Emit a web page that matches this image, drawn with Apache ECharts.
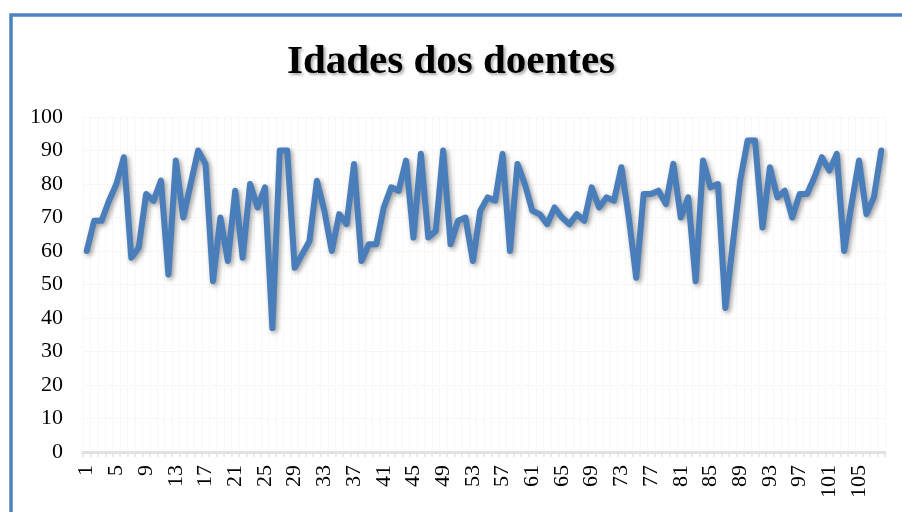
<!DOCTYPE html>
<html>
<head>
<meta charset="utf-8">
<script src="https://cdn.jsdelivr.net/npm/echarts@6/dist/echarts.min.js"></script>
<style>
html,body{margin:0;padding:0;background:#fff;}
#c{width:902px;height:512px;}
</style>
</head>
<body>
<div id="c"></div>
<script>
const titleText = 'Idades dos doentes';
const categories = [];
for (let i = 1; i <= 108; i++) categories.push(String(i));
const ages = [
  60, 69, 69, 75, 80, 88, 58, 61, 77, 75,
  81, 53, 87, 70, 80, 90, 86, 51, 70, 57,
  78, 58, 80, 73, 79, 37, 90, 90, 55, 59,
  63, 81, 72, 60, 71, 68, 86, 57, 62, 62,
  73, 79, 78, 87, 64, 89, 64, 66, 90, 62,
  69, 70, 57, 72, 76, 75, 89, 60, 86, 80,
  72, 71, 68, 73, 70, 68, 71, 69, 79, 73,
  76, 75, 85, 70, 52, 77, 77, 78, 74, 86,
  70, 76, 51, 87, 79, 80, 43, 62, 81, 93,
  93, 67, 85, 76, 78, 70, 77, 77, 82, 88,
  84, 89, 60, 74, 87, 71, 76, 90
];
const yMin = 0, yMax = 100, yStep = 10;

const chart = echarts.init(document.getElementById('c'), null, {renderer: 'canvas'});
chart.setOption({
  backgroundColor: '#ffffff',
  animation: false,
  title: {
    text: titleText,
    left: 'center',
    top: 37,
    textStyle: {
      fontFamily: 'Liberation Serif',
      fontWeight: 'bold',
      fontSize: 41,
      letterSpacing: 3.5,
      color: '#000',
      textShadowColor: 'rgba(0,0,0,0.35)',
      textShadowBlur: 3,
      textShadowOffsetX: 2,
      textShadowOffsetY: 2
    }
  },
  graphic: [{
    type: 'rect',
    shape: {x: 11, y: 15, width: 1000, height: 1000},
    style: {fill: 'none', stroke: '#4F81BD', lineWidth: 3.5},
    silent: true
  }],
  grid: {left: 83, right: 17, top: 117, bottom: 60, containLabel: false},
  xAxis: {
    type: 'category',
    data: categories,
    boundaryGap: true,
    axisLine: {show: true, lineStyle: {color: '#e2e2e2', width: 3}},
    axisTick: {show: true, interval: 0, length: 5, lineStyle: {color: '#e2e2e2', width: 1.5}},
    axisLabel: {
      interval: 3,
      rotate: 90,
      margin: 13,
      fontFamily: 'Liberation Serif',
      fontSize: 22,
      color: '#000'
    },
    splitLine: {show: true, interval: 0, lineStyle: {color: '#f1f1f1', type: 'dotted', width: 1}}
  },
  yAxis: {
    type: 'value',
    min: yMin,
    max: yMax,
    interval: yStep,
    axisLine: {show: false},
    axisTick: {show: false},
    axisLabel: {
      margin: 20,
      fontFamily: 'Liberation Serif',
      fontSize: 22,
      color: '#000'
    },
    splitLine: {show: true, lineStyle: {color: '#f1f1f1', type: 'dotted', width: 1}}
  },
  series: [{
    type: 'line',
    data: ages,
    symbol: 'none',
    lineStyle: {
      color: '#4A7EBB',
      width: 6,
      join: 'round',
      cap: 'round',
      shadowColor: 'rgba(0,0,0,0.4)',
      shadowBlur: 5,
      shadowOffsetX: 2,
      shadowOffsetY: 2
    }
  }]
});
</script>
</body>
</html>
